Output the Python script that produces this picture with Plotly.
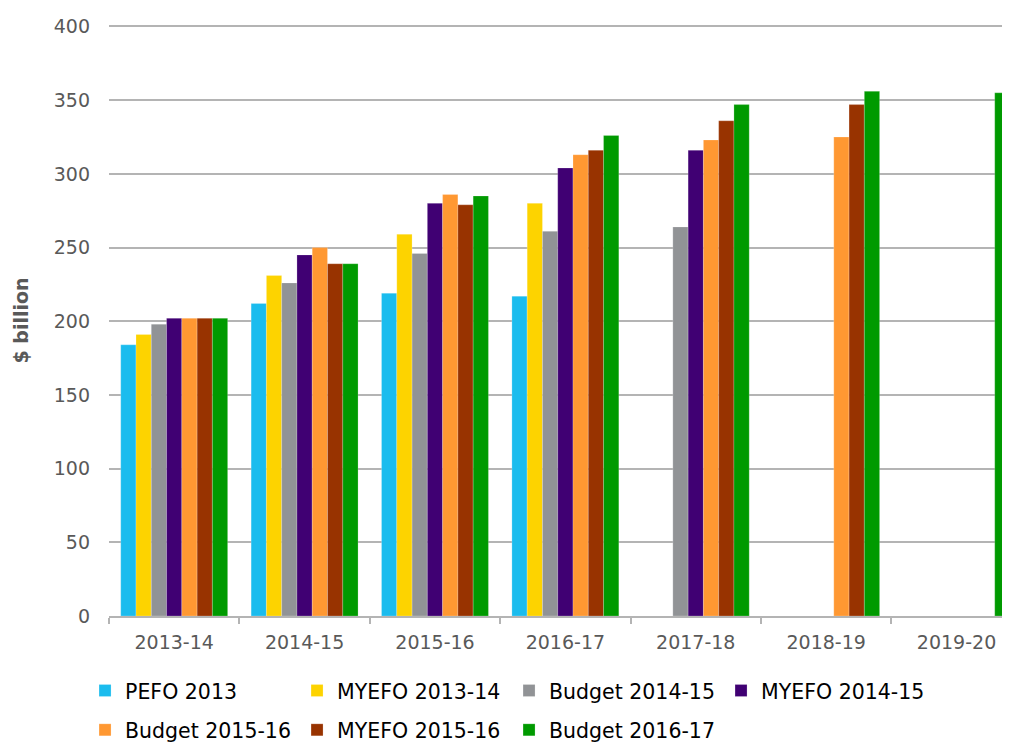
import plotly.graph_objects as go

categories = ["2013-14", "2014-15", "2015-16", "2016-17", "2017-18", "2018-19", "2019-20"]

series_names = ["PEFO 2013", "MYEFO 2013-14", "Budget 2014-15", "MYEFO 2014-15",
                "Budget 2015-16", "MYEFO 2015-16", "Budget 2016-17"]

pefo_2013 = [184, 212, 219, 217, None, None, None]
myefo_2013_14 = [191, 231, 259, 280, None, None, None]
budget_2014_15 = [198, 226, 246, 261, 264, None, None]
myefo_2014_15 = [202, 245, 280, 304, 316, None, None]
budget_2015_16 = [202, 250, 286, 313, 323, 325, None]
myefo_2015_16 = [202, 239, 279, 316, 336, 347, None]
budget_2016_17 = [202, 239, 285, 326, 347, 356, 355]

series_values = [pefo_2013, myefo_2013_14, budget_2014_15, myefo_2014_15,
                 budget_2015_16, myefo_2015_16, budget_2016_17]

colors = ["#1BBCEE", "#FDD300", "#919396", "#400073", "#FF9832", "#983300", "#009A00"]

y_ticks = [0, 50, 100, 150, 200, 250, 300, 350, 400]

legend_rows = ["legend", "legend", "legend", "legend", "legend2", "legend2", "legend2"]

fig = go.Figure()
for name, vals, col, lg in zip(series_names, series_values, colors, legend_rows):
    fig.add_trace(go.Bar(
        name=name, x=categories, y=vals, legend=lg,
        marker=dict(color=col, line=dict(color="rgba(255,255,255,0.35)", width=0.6)),
    ))

legend_font = dict(family="DejaVu Sans", size=20.5, color="#000000")
legend_common = dict(
    orientation="h", xanchor="left", yanchor="middle",
    entrywidth=167, entrywidthmode="pixels",
    font=legend_font, traceorder="normal", itemclick=False, itemdoubleclick=False,
    bgcolor="rgba(0,0,0,0)",
)

# The page adds an 8px body margin, so the figure is offset by 8px in the window.
fig.update_layout(
    width=1002, height=735,
    margin=dict(l=101, r=0, t=17, b=127, autoexpand=False),
    paper_bgcolor="white", plot_bgcolor="white",
    barmode="group", bargap=0.18, bargroupgap=0,
    font=dict(family="DejaVu Sans", color="#595959"),
    showlegend=True,
    legend=dict(x=-0.0266, y=-0.1264, **legend_common),
    legend2=dict(x=-0.0266, y=-0.1929, **legend_common),
)

fig.update_xaxes(
    type="category", range=[-0.5, 6.41], automargin=False,
    showline=True, linecolor="#B4B4B4", linewidth=1.5,
    ticks="outside", tickson="boundaries", ticklen=6, tickcolor="#B4B4B4", tickwidth=1.5,
    tickfont=dict(family="DejaVu Sans", size=19, color="#595959"),
    ticklabelstandoff=8,
    showgrid=False,
)
fig.update_yaxes(
    range=[0, 401], tickvals=y_ticks, automargin=False,
    showgrid=True, gridcolor="#B4B4B4", gridwidth=1.5,
    zeroline=False, showline=False,
    tickfont=dict(family="DejaVu Sans", size=19, color="#595959"),
    ticklabelstandoff=18,
    title=dict(text="<b>$ billion</b>", font=dict(family="DejaVu Sans", size=19, color="#595959"),
               standoff=20),
)

fig.write_html("out.html")
